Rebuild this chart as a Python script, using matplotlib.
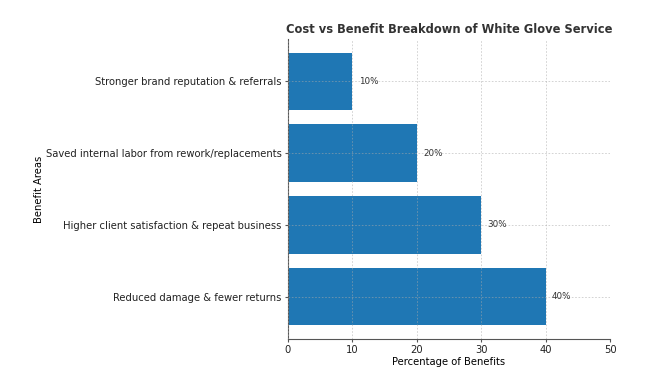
import matplotlib
matplotlib.use("Agg")
import matplotlib.pyplot as plt

categories = [
    "Reduced damage & fewer returns",
    "Higher client satisfaction & repeat business",
    "Saved internal labor from rework/replacements",
    "Stronger brand reputation & referrals",
]
percentages = [40, 30, 20, 10]

fig = plt.figure(figsize=(6.66, 3.86), dpi=100)
ax = fig.add_axes([0.432, 0.122, 0.484, 0.777])

bars = ax.barh(categories, percentages, color="#1f77b4")
for bar, val in zip(bars, percentages):
    ax.text(bar.get_width() + 1, bar.get_y() + bar.get_height() / 2, f"{val}%",
            va="center", ha="left", fontsize=6.3, color="#333333")

ax.set_xlim(0, 50)
ax.set_xlabel("Percentage of Benefits", fontsize=7.2, labelpad=1)
ax.set_ylabel("Benefit Areas", fontsize=7.2, labelpad=1.5)
ax.set_title("Cost vs Benefit Breakdown of White Glove Service",
             fontsize=8.3, fontweight="bold", color="#333333", pad=4)
ax.tick_params(labelsize=7.2, length=2.5, pad=2, color="#555555", labelcolor="#222222")
ax.grid(True, linestyle=(0, (2, 2)), color="#aaaaaa", linewidth=0.6, alpha=0.6)
ax.set_axisbelow(False)
for s in ["top", "right"]:
    ax.spines[s].set_visible(False)
ax.spines["left"].set_color("#555555")
ax.spines["bottom"].set_color("#555555")

fig.savefig("out.png", dpi=100)
